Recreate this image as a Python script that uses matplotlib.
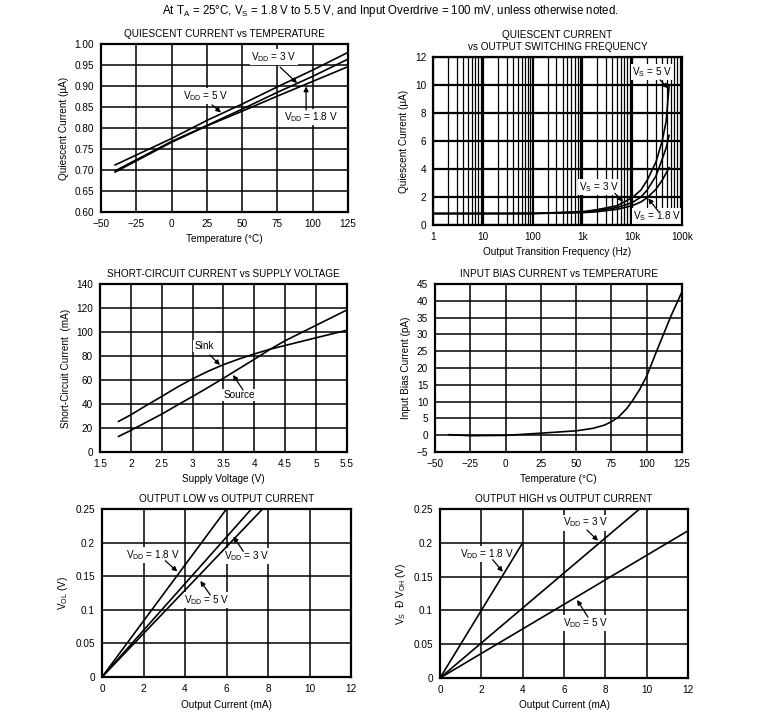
import numpy as np
import matplotlib
matplotlib.use("Agg")
import matplotlib.pyplot as plt
from matplotlib.ticker import FixedLocator, LogLocator, NullFormatter

plt.rcParams["font.family"] = ["Liberation Sans", "DejaVu Sans"]
plt.rcParams["mathtext.default"] = "regular"

W, H = 758, 724

# quiescent current vs temperature
temp_iq = [-40, 0, 25, 50, 75, 100, 125]
iq_5v = [0.712, 0.775, 0.818, 0.857, 0.898, 0.938, 0.980]
iq_3v = [0.698, 0.768, 0.806, 0.845, 0.885, 0.923, 0.964]
iq_18v = [0.695, 0.766, 0.805, 0.840, 0.876, 0.911, 0.946]

# quiescent current vs switching frequency
freq = [1, 10, 100, 1000, 2000, 5000, 10000, 15000, 20000, 30000, 40000, 48000, 55000]
iqf_5v = [0.82, 0.82, 0.83, 0.95, 1.1, 1.38, 1.95, 2.5, 3.2, 4.5, 6.0, 7.4, 9.9]
iqf_3v = [0.82, 0.82, 0.82, 0.92, 1.02, 1.25, 1.6, 2.0, 2.5, 3.5, 4.7, 5.5, 6.4]
iqf_18v = [0.82, 0.82, 0.82, 0.88, 0.95, 1.12, 1.38, 1.65, 1.95, 2.55, 3.2, 3.7, 4.1]

# short-circuit current vs supply voltage
vs = [1.8, 2.0, 2.25, 2.5, 2.75, 3.0, 3.25, 3.5, 3.75, 4.0, 4.25, 4.5, 5.0, 5.5]
isc_sink = [25.5, 31, 38.8, 46.3, 54, 61, 67.3, 72.8, 77.5, 81.7, 85.6, 88.8, 95.2, 101.5]
isc_source = [13, 18, 24.8, 31.6, 39, 46.3, 53.8, 61.5, 69.4, 77.3, 85.4, 92.8, 105.6, 118.4]

# input bias current vs temperature
temp_ib = [-40, -25, 0, 25, 50, 62, 70, 75, 80, 86, 90, 95, 100, 107, 117, 125]
ib = [0.15, -0.15, -0.05, 0.6, 1.3, 2.05, 3.0, 4.0, 5.4, 8.0, 10.3, 13.6, 17.6, 25.0, 35.3, 42.7]

# output low vs output current (end points of near-linear curves)
iol_18v = [0, 6.0]
vol_18v = [0, 0.25]
iol_3v = [0, 7.2]
vol_3v = [0, 0.25]
iol_5v = [0, 7.74]
vol_5v = [0, 0.25]

# output high vs output current
ioh_18v = [0, 4.0]
voh_18v = [0, 0.20]
ioh_3v = [0, 9.655]
voh_3v = [0, 0.25]
ioh_5v = [0, 12.0]
voh_5v = [0, 0.2178]

FS = 7.2
LW = 1.2


def px_axes(fig, left, top, right, bottom):
    return fig.add_axes([left / W, 1 - bottom / H, (right - left) / W, (bottom - top) / H])


def style(ax, title, xlabel, ylabel, xlim, ylim, xticks, yticks, yfmt=None):
    ax.set_xlim(*xlim)
    ax.set_ylim(*ylim)
    ax.set_xticks(xticks)
    ax.set_yticks(yticks)
    if yfmt:
        ax.set_yticklabels([yfmt.format(v) for v in yticks])
    ax.grid(True, color="black", lw=1.1)
    ax.set_axisbelow(True)
    ax.tick_params(length=0, pad=5, labelsize=FS)
    for s in ax.spines.values():
        s.set_linewidth(1.6)
    ax.set_title(title, fontsize=FS, pad=5)
    ax.set_xlabel(xlabel, fontsize=FS, labelpad=4)
    ax.set_ylabel(ylabel, fontsize=FS, labelpad=4)


def note(ax, text, xy_text, xy_from, xy_to):
    # white box hides grid lines behind the label, curves stay on top
    ax.text(xy_text[0], xy_text[1], text, fontsize=FS, ha="center", va="center", zorder=1.5,
            bbox=dict(facecolor="white", edgecolor="none", pad=0.8))
    ax.annotate("", xy=xy_to, xytext=xy_from, zorder=5,
                arrowprops=dict(arrowstyle="-|>", color="black", lw=0.9,
                                mutation_scale=7, shrinkA=0, shrinkB=0))


fig = plt.figure(figsize=(W / 100, H / 100), dpi=100)
fig.text(390 / W, 1 - 11 / H,
         "At T$_A$ = 25°C, V$_S$ = 1.8 V to 5.5 V, and Input Overdrive = 100 mV, unless otherwise noted.",
         ha="center", va="center", fontsize=8.3)

# --- top left
ax = px_axes(fig, 101, 44, 348, 212)
style(ax, "QUIESCENT CURRENT vs TEMPERATURE", "Temperature (°C)", "Quiescent Current (µA)",
      (-50, 125), (0.60, 1.00), [-50, -25, 0, 25, 50, 75, 100, 125],
      np.arange(0.60, 1.001, 0.05), "{:.2f}")
ax.plot(temp_iq, iq_5v, color="black", lw=LW)
ax.plot(temp_iq, iq_3v, color="black", lw=LW)
ax.plot(temp_iq, iq_18v, color="black", lw=LW)
note(ax, "V$_{DD}$ = 3 V", (72.6, 0.969), (76.9, 0.945), (88.9, 0.907))
note(ax, "V$_{DD}$ = 5 V", (24.4, 0.876), (28.7, 0.855), (35, 0.837))
note(ax, "V$_{DD}$ = 1.8 V", (98.8, 0.826), (95.3, 0.843), (95.3, 0.899))

# --- top right
ax = px_axes(fig, 433, 57, 682, 225)
style(ax, "QUIESCENT CURRENT\nvs OUTPUT SWITCHING FREQUENCY", "Output Transition Frequency (Hz)",
      "Quiescent Current (µA)", (1, 1e5), (0, 12), [1], [0, 2, 4, 6, 8, 10, 12])
ax.set_xscale("log")
ax.set_xlim(1, 1e5)
ax.xaxis.set_major_locator(FixedLocator([1, 10, 100, 1e3, 1e4, 1e5]))
ax.set_xticklabels(["1", "10", "100", "1k", "10k", "100k"])
ax.xaxis.set_minor_locator(LogLocator(base=10, subs=np.arange(2, 10), numticks=20))
ax.xaxis.set_minor_formatter(NullFormatter())
ax.grid(True, which="major", color="black", lw=1.6)
ax.grid(True, which="minor", axis="x", color="black", lw=0.9)
ax.tick_params(which="both", length=0)
ax.plot(freq, iqf_5v, color="black", lw=LW)
ax.plot(freq, iqf_3v, color="black", lw=LW)
ax.plot(freq, iqf_18v, color="black", lw=LW)
note(ax, "V$_S$ = 5 V", (25000, 10.93), (36200, 10.36), (53000, 9.76))
note(ax, "V$_S$ = 3 V", (2140, 2.74), (4500, 2.26), (6600, 1.67))
note(ax, "V$_S$ = 1.8 V", (31500, 0.62), (33400, 0.98), (21000, 1.9))

# --- middle left
ax = px_axes(fig, 100, 284, 347, 452)
style(ax, "SHORT-CIRCUIT CURRENT vs SUPPLY VOLTAGE", "Supply Voltage (V)", "Short-Circuit Current  (mA)",
      (1.5, 5.5), (0, 140), [1.5, 2, 2.5, 3, 3.5, 4, 4.5, 5, 5.5],
      [0, 20, 40, 60, 80, 100, 120, 140])
ax.set_xticklabels(["1.5", "2", "2.5", "3", "3.5", "4", "4.5", "5", "5.5"])
ax.plot(vs, isc_sink, color="black", lw=LW)
ax.plot(vs, isc_source, color="black", lw=LW)
note(ax, "Sink", (3.184, 88.3), (3.28, 80.8), (3.443, 72.5))
note(ax, "Source", (3.751, 47.5), (3.816, 51.7), (3.654, 64.2))

# --- middle right
ax = px_axes(fig, 435, 284, 682, 452)
style(ax, "INPUT BIAS CURRENT vs TEMPERATURE", "Temperature (°C)", "Input Bias Current (pA)",
      (-50, 125), (-5, 45), [-50, -25, 0, 25, 50, 75, 100, 125],
      [-5, 0, 5, 10, 15, 20, 25, 30, 35, 40, 45])
ax.plot(temp_ib, ib, color="black", lw=LW)

# --- bottom left
ax = px_axes(fig, 102, 509, 351, 677)
style(ax, "OUTPUT LOW vs OUTPUT CURRENT", "Output Current (mA)", "V$_{OL}$ (V)",
      (0, 12), (0, 0.25), [0, 2, 4, 6, 8, 10, 12],
      [0, 0.05, 0.1, 0.15, 0.2, 0.25])
ax.set_yticklabels(["0", "0.05", "0.1", "0.15", "0.2", "0.25"])
ax.plot(iol_18v, vol_18v, color="black", lw=LW)
ax.plot(iol_3v, vol_3v, color="black", lw=LW)
ax.plot(iol_5v, vol_5v, color="black", lw=LW)
note(ax, "V$_{DD}$ = 1.8 V", (2.47, 0.182), (3.05, 0.173), (3.63, 0.157))
note(ax, "V$_{DD}$ = 3 V", (6.96, 0.180), (6.81, 0.187), (6.33, 0.209))
note(ax, "V$_{DD}$ = 5 V", (5.07, 0.115), (5.22, 0.122), (4.74, 0.143))

# --- bottom right
ax = px_axes(fig, 440, 509, 688, 678)
style(ax, "OUTPUT HIGH vs OUTPUT CURRENT", "Output Current (mA)", "V$_S$  Ð V$_{OH}$ (V)",
      (0, 12), (0, 0.25), [0, 2, 4, 6, 8, 10, 12],
      [0, 0.05, 0.1, 0.15, 0.2, 0.25])
ax.set_yticklabels(["0", "0.05", "0.1", "0.15", "0.2", "0.25"])
ax.plot(ioh_18v, voh_18v, color="black", lw=LW)
ax.plot(ioh_3v, voh_3v, color="black", lw=LW)
ax.plot(ioh_5v, voh_5v, color="black", lw=LW)
note(ax, "V$_{DD}$ = 1.8 V", (2.26, 0.184), (2.55, 0.175), (3.04, 0.157))
note(ax, "V$_{DD}$ = 3 V", (7.07, 0.230), (7.11, 0.219), (7.65, 0.203))
note(ax, "V$_{DD}$ = 5 V", (7.07, 0.081), (7.16, 0.090), (6.63, 0.1155))

fig.savefig("out.png", dpi=100)
